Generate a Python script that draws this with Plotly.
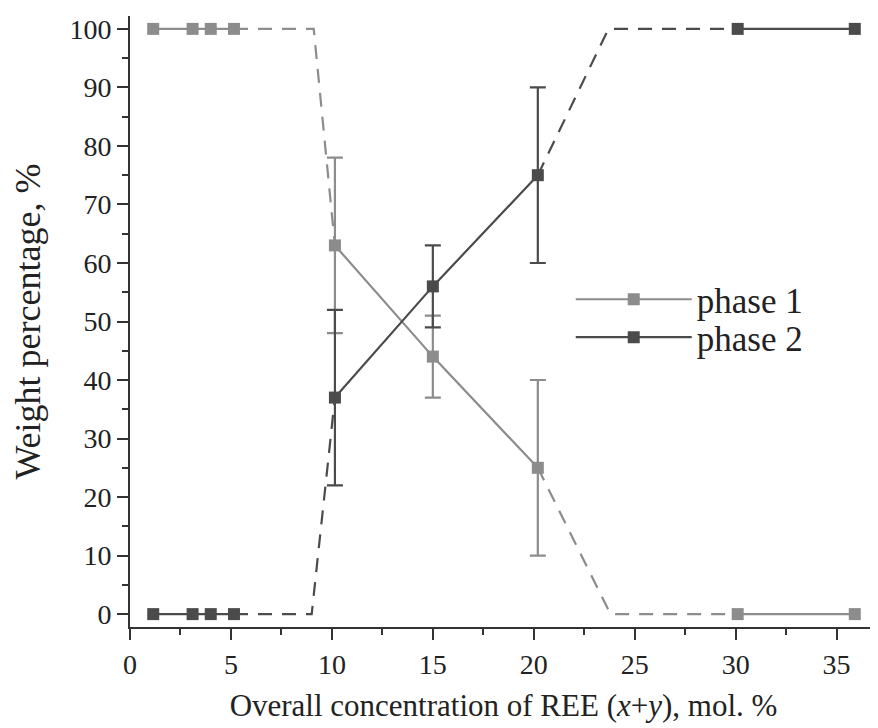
import plotly.graph_objects as go

# data (None separates the measured segments; dashed lines show phase boundaries)
x_all = [1.15, 3.1, 4.0, 5.15, None, 10.15, 15.0, 20.2, None, 30.1, 35.9]
phase1 = [100, 100, 100, 100, None, 63, 44, 25, None, 0, 0]
phase2 = [0, 0, 0, 0, None, 37, 56, 75, None, 100, 100]
err_x = [10.15, 15.0, 20.2]
err1_y = [63, 44, 25]
err1 = [15, 7, 15]
err2_y = [37, 56, 75]
err2 = [15, 7, 15]
dash1_x = [5.15, 9.1, 10.15, None, 20.2, 23.8, 30.1]
dash1_y = [100, 100, 63, None, 25, 0, 0]
dash2_x = [5.15, 9.0, 10.15, None, 20.2, 23.7, 30.1]
dash2_y = [0, 0, 37, None, 75, 100, 100]

c1 = "#8c8c8c"
c2 = "#4b4b4b"
ink = "#222222"

fig = go.Figure()

for xs, ys, c in [(dash1_x, dash1_y, c1), (dash2_x, dash2_y, c2)]:
    fig.add_trace(go.Scatter(x=xs, y=ys, mode="lines", showlegend=False, connectgaps=False,
                             line=dict(color=c, width=2.2, dash="14px,10px"), hoverinfo="skip"))

for ys, es, c in [(err1_y, err1, c1), (err2_y, err2, c2)]:
    fig.add_trace(go.Scatter(x=err_x, y=ys, mode="markers", showlegend=False,
                             marker=dict(size=1, color=c, opacity=0),
                             error_y=dict(type="data", array=es, color=c, thickness=2.2, width=8)))

fig.add_trace(go.Scatter(x=x_all, y=phase1, mode="lines+markers", name="phase 1",
                         connectgaps=False, legend="legend",
                         line=dict(color=c1, width=2.2),
                         marker=dict(symbol="square", size=12, color=c1)))
fig.add_trace(go.Scatter(x=x_all, y=phase2, mode="lines+markers", name="phase 2",
                         connectgaps=False, legend="legend2",
                         line=dict(color=c2, width=2.2),
                         marker=dict(symbol="square", size=12, color=c2)))

font = "Liberation Serif"
leg = dict(xanchor="left", yanchor="middle", bgcolor="rgba(0,0,0,0)",
           font=dict(size=35, family=font, color=ink), itemwidth=116)
# page body has an 8px margin, so the figure is 8px smaller and margins shifted
fig.update_layout(
    width=870, height=720,
    margin=dict(l=122, r=1, t=8, b=101),
    paper_bgcolor="white", plot_bgcolor="white",
    font=dict(family=font, size=28, color=ink),
    showlegend=True,
    legend=dict(leg, x=0.59, y=0.536),
    legend2=dict(leg, x=0.59, y=0.474),
    xaxis=dict(range=[0, 37], tickmode="array", tickvals=[0, 5, 10, 15, 20, 25, 30, 35],
               automargin=False,
               showgrid=False, zeroline=False, showline=True, linecolor="#333", linewidth=2,
               ticks="outside", ticklen=11, tickwidth=2, tickcolor="#333",
               minor=dict(ticks="outside", ticklen=6, tickwidth=2, tickcolor="#333", dtick=2.5),
               tickfont=dict(size=28, family=font, color=ink),
               title=dict(text="Overall concentration of REE (<i>x</i>+<i>y</i>), mol. %",
                          font=dict(size=31, family=font, color=ink), standoff=16)),
    yaxis=dict(range=[-2.2, 102.2], tickmode="array", tickvals=list(range(0, 101, 10)),
               automargin=False,
               showgrid=False, zeroline=False, showline=True, linecolor="#333", linewidth=2,
               ticks="outside", ticklen=11, tickwidth=2, tickcolor="#333",
               minor=dict(ticks="outside", ticklen=6, tickwidth=2, tickcolor="#333", dtick=5),
               tickfont=dict(size=28, family=font, color=ink),
               title=dict(text="Weight percentage, %", font=dict(size=36, family=font, color=ink),
                          standoff=19)),
)

fig.write_html("out.html")
